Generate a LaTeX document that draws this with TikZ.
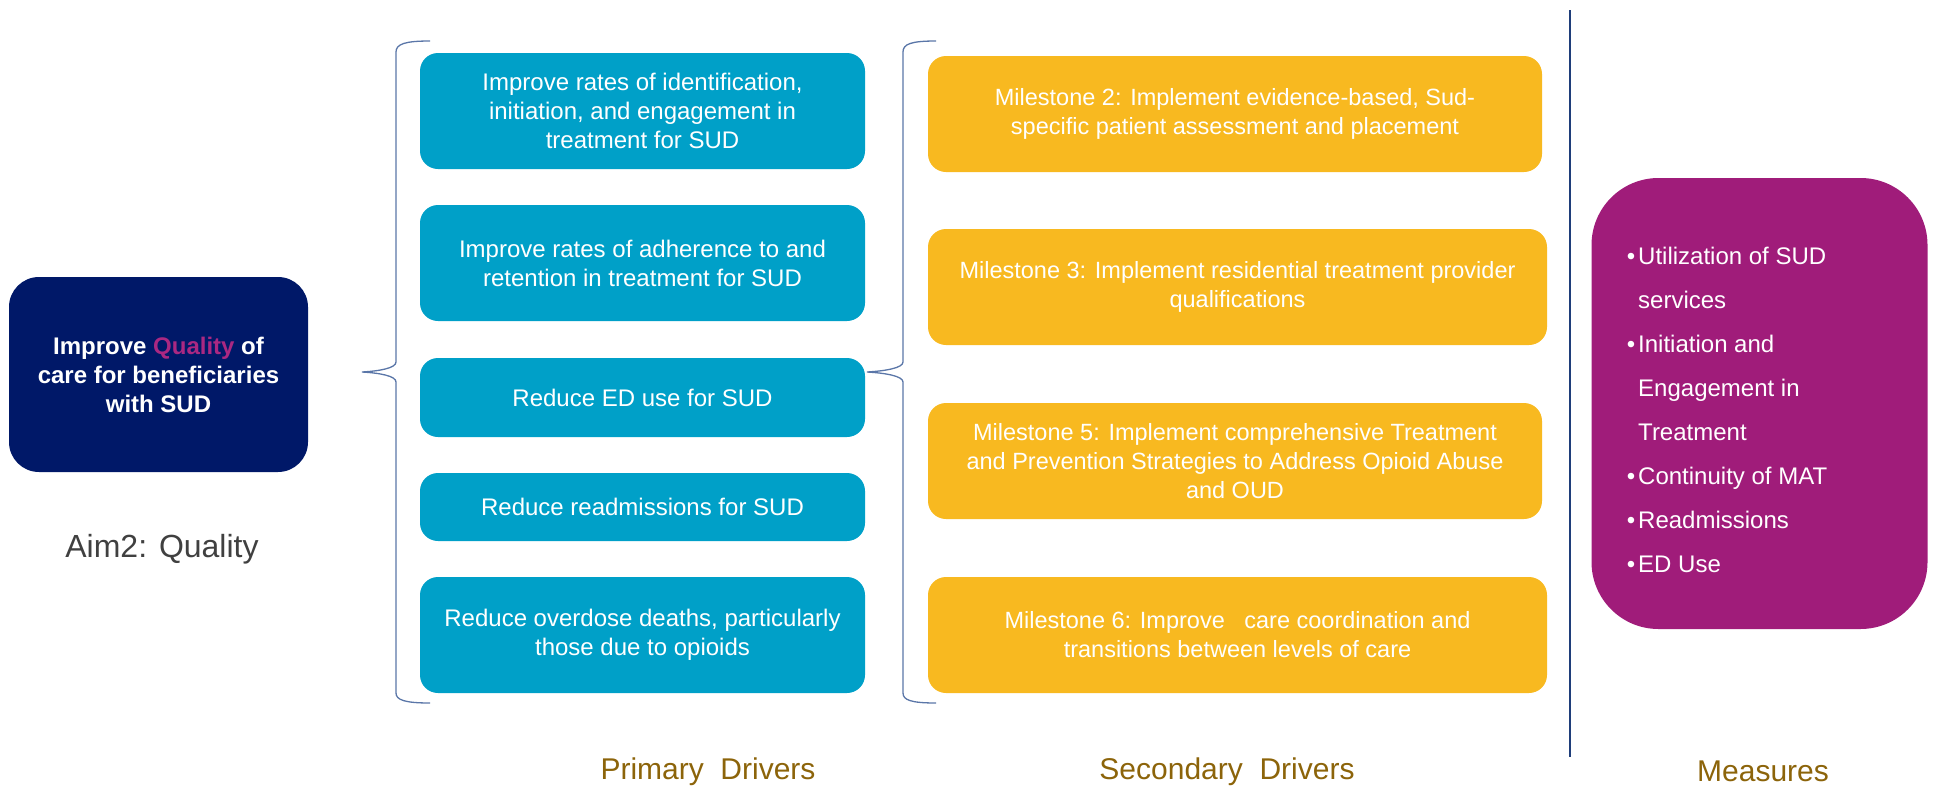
\documentclass[tikz,border=0pt]{standalone}
\usepackage{fontspec}
\setmainfont{Liberation Sans}
\definecolor{navy}{RGB}{0,24,104}
\definecolor{teal}{RGB}{0,160,200}
\definecolor{gold}{RGB}{248,185,32}
\definecolor{plum}{RGB}{160,28,122}
\definecolor{qualitymag}{RGB}{170,40,130}
\definecolor{bracec}{RGB}{90,118,168}
\definecolor{vline}{RGB}{31,62,122}
\definecolor{labelc}{RGB}{140,100,10}
\definecolor{aimgray}{RGB}{64,64,64}
\newcommand{\mbul}{\llap{\textbullet\hspace{3pt}}}
\begin{document}
\begin{tikzpicture}[x=1pt,y=-1pt,
  primbox/.style={fill=teal,draw=none,rounded corners=18pt,minimum width=445pt,text=white,align=center,inner sep=0pt,font=\fontsize{24}{29}\selectfont},
  secbox/.style={fill=gold,draw=none,rounded corners=18pt,text=white,align=center,inner sep=0pt,font=\fontsize{23.5}{29}\selectfont},
  measline/.style={anchor=base west,text=white,inner sep=0pt,font=\fontsize{24}{29}\selectfont},
  bracepath/.style={draw=bracec,line width=1.3pt},
  footlabel/.style={text=labelc,font=\fontsize{30}{36}\selectfont}]
\useasboundingbox (0,0) rectangle (1937,790);

% Aim box
\node[fill=navy,rounded corners=30pt,minimum width=299pt,minimum height=195pt,inner sep=0pt,
  text=white,align=center,font=\bfseries\fontsize{24}{29}\selectfont] (aim) at (158.5,374.5)
  {Improve \textcolor{qualitymag}{Quality} of\\care for beneficiaries\\with SUD};
\node[text=aimgray,font=\fontsize{32}{38}\selectfont] (aimlabel) at (162,549) {Aim2: Quality};

% Primary drivers
\node[primbox,minimum height=116pt] (p1) at (642.5,111) {Improve rates of identification,\\initiation, and engagement in\\treatment for SUD};
\node[primbox,minimum height=116pt] (p2) at (642.5,263) {Improve rates of adherence to and\\retention in treatment for SUD};
\node[primbox,minimum height=79pt] (p3) at (642.5,397.5) {Reduce ED use for SUD};
\node[primbox,minimum height=68pt] (p4) at (642.5,507) {Reduce readmissions for SUD};
\node[primbox,minimum height=116pt] (p5) at (642.5,635) {Reduce overdose deaths, particularly\\those due to opioids};

% Secondary drivers
\node[secbox,minimum width=614pt,minimum height=116pt] (s1) at (1235,114) {Milestone 2: Implement evidence-based, Sud-\\specific patient assessment and placement};
\node[secbox,minimum width=619pt,minimum height=116pt] (s2) at (1237.5,287) {Milestone 3: Implement residential treatment provider\\qualifications};
\node[secbox,minimum width=614pt,minimum height=116pt] (s3) at (1235,461) {Milestone 5: Implement comprehensive Treatment\\and Prevention Strategies to Address Opioid Abuse\\and OUD};
\node[secbox,minimum width=619pt,minimum height=116pt] (s4) at (1237.5,635) {Milestone 6: Improve \ \ care coordination and\\transitions between levels of care};

% Measures
\node[fill=plum,rounded corners=67pt,minimum width=336pt,minimum height=451pt,inner sep=0pt] (meas) at (1759.5,403.5) {};
\node[measline] (m1) at (1638,264) {\mbul Utilization of SUD};
\node[measline] (m2) at (1638,308) {services};
\node[measline] (m3) at (1638,352) {\mbul Initiation and};
\node[measline] (m4) at (1638,396) {Engagement in};
\node[measline] (m5) at (1638,440) {Treatment};
\node[measline] (m6) at (1638,484) {\mbul Continuity of MAT};
\node[measline] (m7) at (1638,528) {\mbul Readmissions};
\node[measline] (m8) at (1638,572) {\mbul ED Use};

% Braces
\coordinate (b1top) at (430,41);
\coordinate (b1tip) at (362,372);
\coordinate (b1bot) at (430,703);
\draw[bracepath] (b1top) .. controls (405,41) and (396,44) .. (396,52) -- (396,362)
  .. controls (396,368) and (380,371) .. (b1tip)
  .. controls (380,373) and (396,376) .. (396,382) -- (396,693)
  .. controls (396,700) and (405,703) .. (b1bot);
\coordinate (b2top) at (936,41);
\coordinate (b2tip) at (867,372);
\coordinate (b2bot) at (936,703);
\draw[bracepath] (b2top) .. controls (911,41) and (903,44) .. (903,52) -- (903,362)
  .. controls (903,368) and (885,371) .. (b2tip)
  .. controls (885,373) and (903,376) .. (903,382) -- (903,693)
  .. controls (903,700) and (911,703) .. (b2bot);

% Vertical separator
\coordinate (vtop) at (1570,10);
\coordinate (vbot) at (1570,757);
\draw[vline,line width=2.5pt] (vtop) -- (vbot);

% Footer labels
\node[footlabel] (lprim) at (708,772) {Primary \ Drivers};
\node[footlabel] (lsec) at (1227,772) {Secondary \ Drivers};
\node[footlabel] (lmeas) at (1763,771) {Measures};
\end{tikzpicture}
\end{document}
